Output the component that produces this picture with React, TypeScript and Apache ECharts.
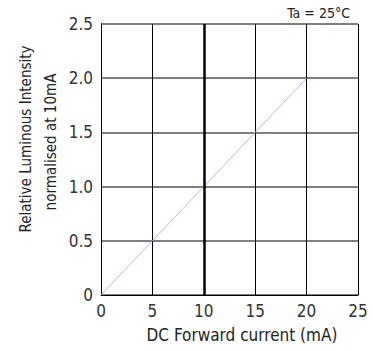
import React, { useEffect, useRef } from "react";
import * as echarts from "echarts";

const currents = [0, 5, 10, 15, 20];
const intensity = [0, 0.5, 1.0, 1.5, 2.0];
const xTitle = "DC Forward current (mA)";
const yTitle1 = "Relative Luminous Intensity";
const yTitle2 = "normalised at 10mA";
const note = "Ta = 25°C";

const FONT = "'Liberation Sans Narrow', 'DejaVu Sans Condensed', sans-serif";

export default function App() {
  const ref = useRef<HTMLDivElement>(null);
  useEffect(() => {
    const chart = echarts.init(ref.current!, null, { renderer: "svg" });
    const txt = (text: string, x: number, y: number, size: number, rot: number, sx: number) => ({
      type: "text",
      x,
      y,
      rotation: rot,
      scaleX: sx,
      style: {
        text,
        fontFamily: FONT,
        fontSize: size,
        fill: "#222",
        textAlign: "center",
        textVerticalAlign: "middle",
      },
    });
    chart.setOption({
      animation: false,
      backgroundColor: "#fff",
      grid: { left: 101, right: 15, top: 24, bottom: 56, containLabel: false },
      xAxis: {
        type: "value",
        min: 0,
        max: 25,
        interval: 5,
        axisLine: { show: true, lineStyle: { color: "#000", width: 1 } },
        axisTick: { show: false },
        axisLabel: { fontFamily: FONT, fontSize: 17, color: "#333", margin: 7 },
        splitLine: { show: true, lineStyle: { color: "#000", width: 1 } },
      },
      yAxis: {
        type: "value",
        min: 0,
        max: 2.5,
        interval: 0.5,
        axisLine: { show: true, lineStyle: { color: "#000", width: 1 } },
        axisTick: { show: false },
        axisLabel: {
          fontFamily: FONT,
          fontSize: 17,
          color: "#333",
          margin: 8,
          formatter: (v: number) => (v === 0 ? "0" : v.toFixed(1)),
        },
        splitLine: { show: true, lineStyle: { color: "#555", width: 1.5 } },
      },
      series: [
        {
          type: "line",
          data: currents.map((c, i) => [c, intensity[i]]),
          showSymbol: false,
          symbol: "none",
          lineStyle: { color: "#b4b4f4", width: 1 },
          markLine: {
            silent: true,
            symbol: "none",
            label: { show: false },
            lineStyle: { color: "#000", width: 2.5, type: "solid" },
            data: [{ xAxis: 10 }],
          },
          z: 3,
        },
      ],
      graphic: [
        txt(yTitle1, 26, 139, 16, Math.PI / 2, 0.94),
        txt(yTitle2, 51, 142, 16, Math.PI / 2, 0.94),
        txt(xTitle, 242, 335, 17, 0, 1.0),
        {
          type: "text",
          x: 350,
          y: 13,
          style: {
            text: note,
            fontFamily: FONT,
            fontSize: 14,
            fill: "#222",
            textAlign: "right",
            textVerticalAlign: "middle",
          },
        },
      ],
    });
    return () => chart.dispose();
  }, []);
  return (
    <div
      ref={ref}
      style={{ position: "absolute", left: 0, top: 0, width: 373, height: 351 }}
    />
  );
}
